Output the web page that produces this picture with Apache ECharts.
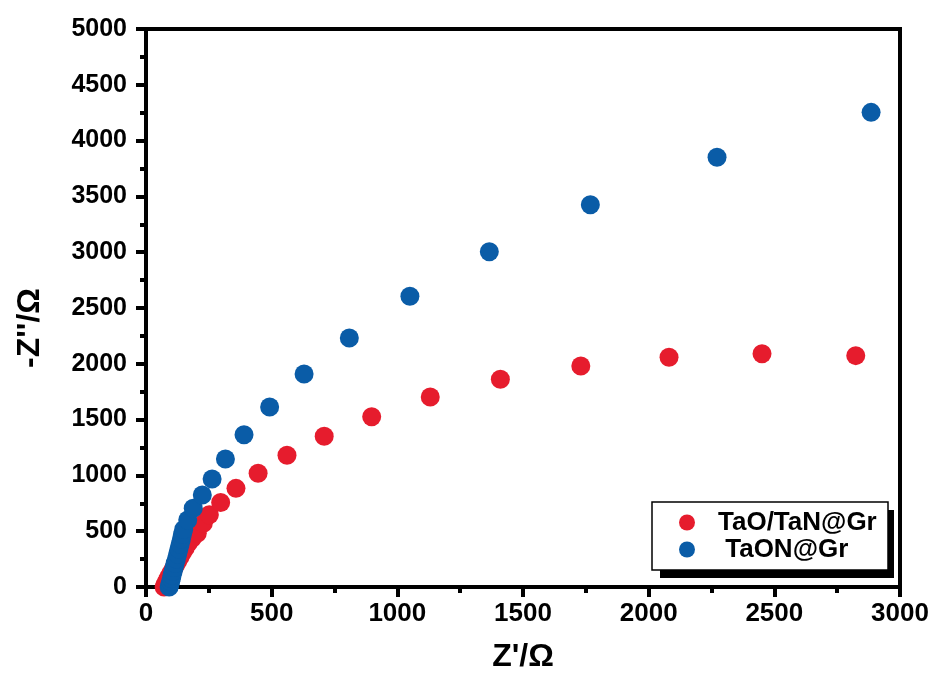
<!DOCTYPE html>
<html>
<head>
<meta charset="utf-8">
<script src="https://cdn.jsdelivr.net/npm/echarts@6/dist/echarts.min.js"></script>
<style>
  html, body { margin: 0; padding: 0; background: #fff; }
  #chart { width: 940px; height: 675px; }
</style>
</head>
<body>
<div id="chart"></div>
<script>
// Nyquist plot data: [Z' (ohm), -Z'' (ohm)]
const seriesNames = ['TaO/TaN@Gr', 'TaON@Gr'];
const seriesColors = ['#E61C2D', '#0A5CA7'];

const taoTanGr = [
  [72, 0], [76, 20], [81, 45], [87, 72], [94, 100], [101, 130], [109, 162],
  [117, 195], [126, 230], [135, 268], [145, 308], [156, 350], [168, 393],
  [184, 437], [204, 481], [228, 570], [252, 648], [297, 757], [358, 884],
  [446, 1019], [561, 1180], [709, 1350], [898, 1526], [1131, 1703],
  [1410, 1861], [1730, 1980], [2081, 2058], [2451, 2090], [2824, 2073]
];

const taonGr = [
  [92, 0], [95, 22], [98, 48], [101, 75], [104, 105], [108, 140], [112, 175],
  [116, 212], [121, 252], [126, 295], [131, 340], [136, 385], [141, 430],
  [145, 470], [150, 515], [166, 600], [188, 705], [224, 825], [263, 968],
  [316, 1147], [390, 1365], [492, 1613], [629, 1908], [809, 2231],
  [1050, 2605], [1366, 3004], [1768, 3426], [2272, 3850], [2885, 4253]
];

const xAxisRange = { min: 0, max: 3000, interval: 500 };
const yAxisRange = { min: 0, max: 5000, interval: 500 };
const xAxisTitle = "Z'/Ω";
const yAxisTitle = "-Z''/Ω";

const FONT = '"Liberation Sans", Arial, Helvetica, sans-serif';

const chart = echarts.init(document.getElementById('chart'));

function valueAxis(range, title, isY) {
  return {
    type: 'value',
    min: range.min,
    max: range.max,
    interval: range.interval,
    name: title,
    nameLocation: 'middle',
    nameGap: isY ? 100 : 54,
    nameTextStyle: {
      fontFamily: FONT, fontWeight: 'bold', fontSize: 32, color: '#000',
      padding: isY ? [0, 0, 0, -40] : 0
    },
    axisLine: { show: true, onZero: false, lineStyle: { color: '#000', width: 4 } },
    axisTick: { show: true, inside: false, length: 10, lineStyle: { color: '#000', width: 4 } },
    minorTick: { show: true, splitNumber: 2, length: 6, lineStyle: { color: '#000', width: 4 } },
    splitLine: { show: false },
    axisLabel: {
      fontFamily: FONT, fontWeight: 'bold', fontSize: isY ? 25 : 26, color: '#000',
      margin: isY ? 19 : 14,
      formatter: v => String(v)
    }
  };
}

chart.setOption({
  animation: false,
  backgroundColor: '#fff',
  grid: {
    left: 146, right: 40, top: 29, bottom: 88,
    outerBoundsMode: 'none',
    show: true, borderColor: '#000', borderWidth: 4, backgroundColor: 'transparent'
  },
  xAxis: valueAxis(xAxisRange, xAxisTitle, false),
  yAxis: valueAxis(yAxisRange, yAxisTitle, true),
  legend: {
    orient: 'vertical',
    left: 674,
    top: 504,
    itemWidth: 52,
    itemHeight: 16,
    itemGap: 0,
    icon: 'circle',
    data: seriesNames,
    formatter: name => (name === seriesNames[1] ? ' ' + name : name),
    textStyle: { fontFamily: FONT, fontWeight: 'bold', fontSize: 26, color: '#000', lineHeight: 27 },
    z: 10
  },
  graphic: [
    {
      type: 'rect', z: 5,
      shape: { x: 660, y: 510, width: 234, height: 68 },
      style: { fill: '#000' }
    },
    {
      type: 'rect', z: 6,
      shape: { x: 652, y: 502, width: 236, height: 68 },
      style: { fill: '#fff', stroke: '#000', lineWidth: 1.5 }
    }
  ],
  series: [
    {
      name: seriesNames[0], type: 'scatter', data: taoTanGr,
      symbol: 'circle', symbolSize: 19,
      itemStyle: { color: seriesColors[0], opacity: 1 }, z: 2
    },
    {
      name: seriesNames[1], type: 'scatter', data: taonGr,
      symbol: 'circle', symbolSize: 19,
      itemStyle: { color: seriesColors[1], opacity: 1 }, z: 3
    }
  ]
});
</script>
</body>
</html>
